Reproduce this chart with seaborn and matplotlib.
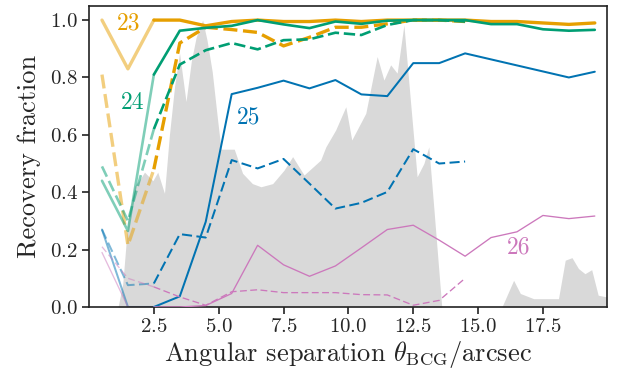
import numpy as np
import pandas as pd
import matplotlib
matplotlib.use("Agg")
import matplotlib.pyplot as plt
import seaborn as sns

# ---------------- data ----------------
sep = [0.5, 1.5, 2.5, 3.5, 4.5, 5.5, 6.5, 7.5, 8.5, 9.5,
       10.5, 11.5, 12.5, 13.5, 14.5, 15.5, 16.5, 17.5, 18.5, 19.5]

frac_23_solid = [1.0, 0.83, 1.0, 1.0, 0.98, 0.995, 1.0, 0.995, 0.995, 1.0,
                 0.995, 1.0, 1.0, 1.0, 1.0, 0.995, 0.995, 0.99, 0.985, 0.99]
frac_23_dashed = [0.81, 0.215, 0.48, 0.92, 0.975, 0.967, 0.957, 0.91, 0.94, 0.975,
                  0.975, 0.987, 1.0, 1.0, 0.995]

frac_24_solid = [0.44, 0.265, 0.81, 0.963, 0.973, 0.98, 1.0, 0.985, 0.972, 0.995,
                 0.987, 0.998, 1.0, 1.0, 1.0, 0.986, 0.986, 0.968, 0.963, 0.966]
frac_24_dashed = [0.49, 0.30, 0.62, 0.845, 0.895, 0.92, 0.898, 0.93, 0.933, 0.956,
                  0.948, 0.983, 1.0, 1.0, 0.995]

frac_25_solid = [0.27, 0.0, 0.0, 0.037, 0.297, 0.742, 0.764, 0.789, 0.762, 0.791,
                 0.741, 0.735, 0.85, 0.85, 0.884, 0.863, 0.842, 0.821, 0.80, 0.82]
frac_25_dashed = [0.27, 0.076, 0.082, 0.254, 0.242, 0.512, 0.483, 0.516, 0.43, 0.343,
                  0.363, 0.401, 0.550, 0.50, 0.507]

frac_26_solid = [0.19, 0.0, 0.0, 0.0, 0.005, 0.047, 0.215, 0.147, 0.107, 0.143,
                 0.206, 0.27, 0.285, 0.233, 0.177, 0.242, 0.262, 0.319, 0.308, 0.317]
frac_26_dashed = [0.21, 0.10, 0.07, 0.035, 0.006, 0.053, 0.06, 0.05, 0.05, 0.05,
                  0.043, 0.042, 0.006, 0.023, 0.10]

# background distribution of separations (scaled)
hist_x = [1.12, 1.3, 1.5, 1.75, 2.0, 2.14, 2.46, 2.65, 2.91, 3.1, 3.3, 3.49, 3.74,
          3.95, 4.13, 4.38, 4.55, 4.75, 4.96, 5.09, 5.6, 5.92, 6.3, 6.63, 7.08,
          7.52, 7.85, 8.29, 8.93, 9.13, 9.51, 9.9, 10.13, 10.67, 11.11, 11.37,
          11.63, 11.88, 12.14, 12.4, 12.65, 12.91, 13.1, 13.29, 13.6, 15.92,
          16.37, 16.63, 17.14, 18.1, 18.36, 18.62, 18.87, 19.12, 19.38, 19.63, 19.96]
hist_y = [0.0, 0.08, 0.3, 0.42, 0.45, 0.47, 0.44, 0.47, 0.396, 0.6, 0.77, 0.885, 0.716,
          0.86, 0.94, 1.0, 0.93, 0.82, 0.65, 0.55, 0.55, 0.466, 0.43, 0.419, 0.43,
          0.477, 0.524, 0.46, 0.512, 0.558, 0.617, 0.698, 0.582, 0.675, 0.873, 0.791,
          0.844, 0.815, 0.983, 0.71, 0.454, 0.5, 0.558, 0.349, 0.0, 0.0,
          0.093, 0.047, 0.029, 0.029, 0.163, 0.172, 0.134, 0.116, 0.13, 0.041, 0.035]

mags = ["23", "24", "25", "26"]
colors = {"23": "#E69F00", "24": "#009E73", "25": "#0173B2", "26": "#CC78BC"}
widths = {"23": 2.4, "24": 1.9, "25": 1.45, "26": 0.95}
dash_pat = {"23": (4.2, 1.7), "24": (4.3, 1.8), "25": (5.0, 2.2), "26": (5.2, 2.6)}
solid = {"23": frac_23_solid, "24": frac_24_solid, "25": frac_25_solid, "26": frac_26_solid}
dashed = {"23": frac_23_dashed, "24": frac_24_dashed, "25": frac_25_dashed, "26": frac_26_dashed}
label_pos = {"23": (1.52, 0.99), "24": (1.7, 0.71), "25": (6.17, 0.66), "26": (16.55, 0.208)}

# ---------------- style ----------------
sns.set_theme(style="ticks")
plt.rcParams["font.family"] = ["cmr10", "DejaVu Serif"]
plt.rcParams["mathtext.fontset"] = "cm"
plt.rcParams["axes.formatter.use_mathtext"] = True
plt.rcParams["axes.unicode_minus"] = False

fig = plt.figure(figsize=(6.19, 3.73), dpi=100)
ax = fig.add_axes([0.1438, 0.177, 0.8368, 0.8076])

ax.fill_between(hist_x, 0, hist_y, color="#d9d9d9", lw=0, zorder=0)

for m in mags:
    for vals, ls in ((solid[m], "-"), (dashed[m], (0, dash_pat[m]))):
        df = pd.DataFrame({"sep": sep[:len(vals)], "frac": vals})
        sns.lineplot(data=df.iloc[:3], x="sep", y="frac", ax=ax, color=colors[m],
                     lw=widths[m], linestyle=ls, alpha=0.5, zorder=2)
        sns.lineplot(data=df.iloc[2:], x="sep", y="frac", ax=ax, color=colors[m],
                     lw=widths[m], linestyle=ls, zorder=3)
    ax.text(*label_pos[m], m, color=colors[m], fontsize=17, ha="center", va="center",
            zorder=4)

ax.set_xlim(0, 19.97)
ax.set_ylim(0, 1.05)
ax.set_xticks([2.5, 5.0, 7.5, 10.0, 12.5, 15.0, 17.5])
ax.set_yticks([0.0, 0.2, 0.4, 0.6, 0.8, 1.0])
ax.tick_params(labelsize=15, length=5, width=1.2, color="#222222", pad=3)
for s in ax.spines.values():
    s.set_linewidth(1.2)
    s.set_color("#222222")
ax.set_xlabel(r"Angular separation $\theta_{\rm BCG}/{\rm arcsec}$", fontsize=19, labelpad=2)
ax.set_ylabel("Recovery fraction", fontsize=19, labelpad=6)

fig.savefig("out.png", dpi=100)
